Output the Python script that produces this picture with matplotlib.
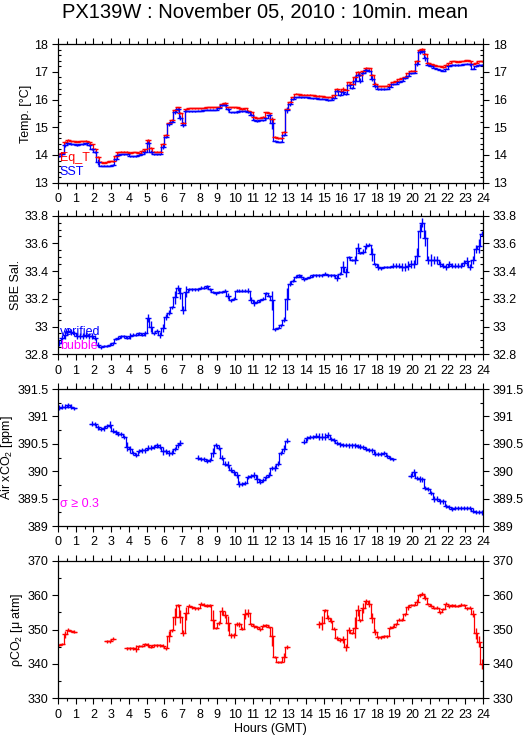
import numpy as np
import matplotlib
matplotlib.use("Agg")
import matplotlib.pyplot as plt
from matplotlib.ticker import MultipleLocator, FuncFormatter

plt.rcParams['font.family'] = ['Liberation Sans', 'DejaVu Sans']
plt.rcParams['mathtext.fontset'] = 'custom'
plt.rcParams['mathtext.rm'] = 'Liberation Sans'
plt.rcParams['mathtext.it'] = 'Liberation Sans:italic'

nan = np.nan

# 10 minute bins (centre of each bin, minutes after 00:00 GMT)
minutes = np.arange(5, 1440, 10)

# --- temperature [degC], one row per hour ---
eq_t = [
    14.02, 14.08, 14.48, 14.55, 14.50, 14.50,
    14.48, 14.50, 14.50, 14.52, 14.48, 14.38,
    14.22, 13.92, 13.75, 13.72, 13.75, 13.78,
    13.78, 13.95, 14.10, 14.12, 14.12, 14.12,
    14.08, 14.10, 14.10, 14.08, 14.15, 14.20,
    14.55, 14.25, 14.12, 14.12, 14.12, 14.40,
    14.72, 15.15, 15.28, 15.62, 15.72, 15.52,
    15.15, 15.65, 15.68, 15.68, 15.68, 15.68,
    15.68, 15.70, 15.72, 15.72, 15.72, 15.73,
    15.75, 15.85, 15.88, 15.72, 15.72, 15.72,
    15.72, 15.68, 15.65, 15.68, 15.60, 15.55,
    15.38, 15.32, 15.35, 15.38, 15.55, 15.52,
    15.30, 14.65, 14.60, 14.60, 14.82, 15.65,
    15.93, 16.08, 16.22, 16.20, 16.18, 16.18,
    16.18, 16.17, 16.15, 16.13, 16.13, 16.12,
    16.10, 16.08, 16.08, 16.15, 16.40, 16.30,
    16.40, 16.35, 16.62, 16.55, 16.80, 17.00,
    16.90, 17.05, 17.15, 17.13, 16.88, 16.58,
    16.48, 16.48, 16.48, 16.50, 16.55, 16.62,
    16.67, 16.73, 16.77, 16.83, 16.95, 17.05,
    17.05, 17.38, 17.80, 17.83, 17.65, 17.33,
    17.28, 17.25, 17.22, 17.20, 17.18, 17.25,
    17.33, 17.38, 17.38, 17.37, 17.38, 17.40,
    17.42, 17.40, 17.28, 17.33, 17.38, 17.38,
]
eq_t_sd = [
    .02, .02, .03, .02, .02, .02,  .02, .02, .02, .02, .02, .02,
    .02, .04, .02, .02, .02, .02,  .02, .03, .02, .02, .02, .02,
    .02, .02, .02, .02, .02, .03,  .03, .03, .02, .02, .02, .04,
    .03, .04, .03, .04, .03, .05,  .05, .02, .02, .02, .02, .02,
    .02, .02, .02, .02, .02, .02,  .02, .02, .02, .03, .02, .02,
    .02, .02, .02, .02, .02, .03,  .02, .02, .02, .02, .02, .02,
    .08, .02, .02, .02, .03, .05,  .03, .02, .02, .02, .02, .02,
    .02, .02, .02, .02, .02, .02,  .02, .02, .02, .02, .03, .02,
    .05, .02, .03, .02, .05, .03,  .04, .03, .04, .03, .05, .04,
    .03, .02, .02, .02, .02, .02,  .02, .02, .02, .02, .02, .02,
    .02, .04, .04, .03, .04, .02,  .02, .02, .02, .02, .02, .02,
    .02, .02, .02, .02, .02, .02,  .02, .03, .02, .02, .02, .02,
]
sst = [
    13.95, 14.02, 14.35, 14.42, 14.40, 14.38,
    14.35, 14.38, 14.40, 14.42, 14.35, 14.22,
    14.10, 13.75, 13.62, 13.62, 13.62, 13.62,
    13.65, 13.85, 14.00, 14.02, 14.02, 14.02,
    13.95, 13.95, 13.95, 14.00, 14.02, 14.12,
    14.45, 14.12, 14.02, 14.02, 14.02, 14.30,
    14.65, 15.12, 15.20, 15.55, 15.65, 15.35,
    15.10, 15.58, 15.58, 15.58, 15.58, 15.60,
    15.60, 15.62, 15.63, 15.63, 15.63, 15.63,
    15.68, 15.80, 15.80, 15.65, 15.55, 15.55,
    15.55, 15.60, 15.58, 15.60, 15.55, 15.45,
    15.27, 15.22, 15.25, 15.25, 15.32, 15.45,
    15.15, 14.52, 14.48, 14.48, 14.72, 15.62,
    15.83, 16.01, 16.08, 16.10, 16.08, 16.08,
    16.08, 16.07, 16.05, 16.05, 16.03, 16.03,
    16.02, 15.98, 16.00, 16.05, 16.32, 16.17,
    16.26, 16.20, 16.53, 16.42, 16.69, 16.90,
    16.69, 16.98, 17.07, 17.05, 16.76, 16.50,
    16.38, 16.38, 16.38, 16.40, 16.47, 16.55,
    16.58, 16.62, 16.67, 16.77, 16.86, 16.95,
    16.98, 17.29, 17.71, 17.76, 17.49, 17.25,
    17.20, 17.15, 17.12, 17.08, 17.05, 17.12,
    17.22, 17.26, 17.25, 17.25, 17.26, 17.27,
    17.30, 17.28, 17.12, 17.22, 17.26, 17.26,
]
sst_sd = [
    .03, .03, .05, .03, .03, .03,  .03, .03, .03, .03, .03, .03,
    .03, .12, .03, .02, .02, .02,  .03, .05, .03, .02, .02, .02,
    .02, .02, .02, .02, .02, .06,  .05, .06, .03, .02, .02, .08,
    .05, .08, .05, .08, .05, .10,  .10, .03, .02, .02, .02, .02,
    .02, .02, .02, .02, .02, .02,  .02, .03, .03, .05, .02, .02,
    .02, .03, .02, .02, .03, .05,  .03, .02, .02, .02, .02, .03,
    .20, .03, .02, .02, .05, .10,  .05, .03, .02, .02, .02, .02,
    .02, .02, .02, .02, .02, .02,  .02, .02, .02, .02, .06, .03,
    .10, .03, .05, .03, .15, .05,  .08, .05, .08, .05, .10, .08,
    .05, .03, .03, .03, .03, .03,  .03, .03, .03, .02, .03, .02,
    .03, .08, .07, .06, .08, .03,  .03, .02, .02, .02, .03, .03,
    .02, .02, .02, .02, .02, .03,  .03, .05, .03, .03, .02, .02,
]

# --- SBE salinity ---
sal = [
    32.88, 32.92, 32.94, 32.97, 32.96, 32.95,
    32.93, 32.93, 32.93, 32.94, 32.93, 32.93,
    32.92, 32.87, 32.85, 32.86, 32.86, 32.87,
    32.88, 32.91, 32.92, 32.93, 32.93, 32.92,
    32.93, 32.94, 32.94, 32.95, 32.94, 32.95,
    33.06, 33.00, 32.95, 32.97, 32.94, 32.99,
    33.07, 33.10, 33.14, 33.21, 33.28, 33.24,
    33.12, 33.25, 33.27, 33.27, 33.27, 33.27,
    33.28, 33.28, 33.29, 33.27, 33.25, 33.24,
    33.25, 33.25, 33.26, 33.22, 33.19, 33.20,
    33.26, 33.26, 33.26, 33.26, 33.26, 33.19,
    33.17, 33.18, 33.19, 33.20, 33.24, 33.22,
    33.19, 32.98, 32.99, 33.01, 33.05, 33.20,
    33.31, 33.33, 33.36, 33.37, 33.36, 33.34,
    33.35, 33.36, 33.37, 33.37, 33.37, 33.37,
    33.38, 33.37, 33.37, 33.37, 33.35, 33.38,
    33.43, 33.39, 33.50, 33.48, 33.48, 33.57,
    33.53, 33.54, 33.58, 33.59, 33.52, 33.45,
    33.43, 33.42, 33.43, 33.43, 33.43, 33.44,
    33.44, 33.44, 33.43, 33.43, 33.44, 33.45,
    33.45, 33.51, 33.69, 33.75, 33.64, 33.48,
    33.48, 33.48, 33.48, 33.45, 33.44, 33.43,
    33.45, 33.44, 33.44, 33.44, 33.44, 33.46,
    33.47, 33.43, 33.48, 33.56, 33.58, 33.67,
]
sal_sd = [
    .02, .02, .03, .02, .02, .02,  .02, .02, .02, .02, .02, .02,
    .02, .02, .01, .01, .01, .01,  .01, .01, .01, .01, .01, .01,
    .02, .01, .01, .01, .01, .02,  .03, .04, .01, .01, .02, .03,
    .02, .02, .01, .05, .02, .04,  .03, .04, .01, .01, .01, .01,
    .01, .01, .01, .01, .01, .01,  .01, .01, .01, .02, .01, .01,
    .01, .01, .01, .01, .02, .02,  .02, .01, .01, .01, .01, .01,
    .07, .01, .01, .01, .02, .08,  .02, .01, .01, .01, .01, .01,
    .01, .01, .01, .01, .01, .01,  .01, .01, .01, .01, .02, .01,
    .04, .03, .01, .01, .03, .03,  .01, .02, .02, .01, .05, .01,
    .02, .01, .01, .01, .01, .02,  .02, .02, .03, .03, .03, .03,
    .03, .06, .05, .03, .06, .03,  .04, .03, .03, .02, .02, .02,
    .02, .02, .02, .02, .02, .02,  .03, .02, .03, .03, .05, .02,
]

# --- atmospheric xCO2 [ppm] ---
air_xco2 = [
    391.16, 391.18, 391.18, 391.20, 391.18, 391.15,
    nan, nan, nan, nan, nan, 390.87,
    390.86, 390.80, 390.77, 390.78, 390.82, 390.85,
    390.74, 390.71, 390.68, 390.68, 390.62, 390.45,
    390.40, 390.33, 390.30, 390.37, 390.38, 390.38,
    390.43, 390.43, 390.44, 390.47, 390.45, 390.37,
    390.36, 390.33, 390.34, 390.40, 390.47, 390.52,
    nan, nan, nan, nan, nan, 390.25,
    390.22, 390.22, 390.19, 390.21, 390.34, 390.48,
    390.43, 390.25, 390.14, 390.12, 390.03, 389.98,
    389.93, 389.77, 389.77, 389.78, 389.90, 389.91,
    389.93, 389.86, 389.81, 389.84, 389.90, 389.94,
    390.06, 390.06, 390.14, 390.33, 390.41, 390.56,
    nan, nan, nan, nan, nan, 390.54,
    390.60, 390.62, 390.62, 390.65, 390.63, 390.63,
    390.63, 390.66, 390.59, 390.57, 390.52, 390.49,
    390.48, 390.48, 390.47, 390.47, 390.47, 390.46,
    390.45, 390.44, 390.41, 390.39, 390.38, 390.32,
    390.31, 390.31, 390.33, 390.28, 390.24, 390.22,
    nan, nan, nan, nan, nan, 389.92,
    389.98, 389.88, 389.86, 389.85, 389.69, 389.67,
    389.60, 389.49, 389.50, 389.45, 389.45, 389.37,
    389.35, 389.31, 389.33, 389.33, 389.33, 389.33,
    389.33, 389.33, 389.28, 389.26, 389.26, 389.25,
]
air_xco2_sd = [
    .05, .04, .04, .05, .04, .03,  .04, .04, .04, .04, .04, .04,
    .04, .05, .04, .05, .04, .06,  .04, .04, .03, .04, .04, .08,
    .06, .04, .04, .04, .05, .04,  .04, .05, .04, .04, .04, .08,
    .04, .06, .04, .04, .04, .05,  .04, .04, .04, .04, .04, .04,
    .04, .04, .04, .04, .08, .04,  .05, .04, .05, .06, .04, .04,
    .06, .05, .04, .04, .04, .04,  .05, .08, .04, .04, .04, .04,
    .04, .06, .04, .04, .06, .05,  .04, .04, .04, .04, .04, .04,
    .04, .04, .04, .05, .06, .06,  .06, .05, .04, .04, .04, .04,
    .04, .04, .04, .04, .04, .04,  .04, .04, .04, .04, .04, .04,
    .04, .04, .04, .04, .03, .03,  .04, .04, .04, .04, .04, .04,
    .06, .04, .05, .04, .04, .04,  .04, .06, .04, .04, .04, .04,
    .04, .04, .04, .04, .04, .04,  .04, .04, .04, .04, .04, .04,
]

# --- seawater pCO2 [uatm] ---
pco2 = [
    345.5, 345.8, 348.7, 350.0, 349.6, 349.4,
    nan, nan, nan, nan, nan, nan,
    nan, nan, nan, nan, 346.6, 346.6,
    347.4, nan, nan, nan, nan, 344.6,
    344.6, 344.6, 344.4, 345.2, 345.2, 345.8,
    345.6, 345.0, 345.4, 345.4, 345.4, 345.3,
    344.6, 348.0, 349.8, 353.8, 357.1, 353.8,
    349.0, 354.7, 357.0, 356.5, 356.2, 356.2,
    357.6, 357.3, 357.0, 357.1, 352.9, 350.5,
    352.0, 355.5, 354.4, 351.9, 348.3, 348.3,
    351.7, 351.5, 350.3, 354.5, 354.8, 351.6,
    351.0, 350.7, 350.1, 351.2, 351.3, 350.8,
    348.0, 342.0, 340.6, 340.6, 342.0, 345.0,
    nan, nan, nan, nan, nan, nan,
    nan, nan, nan, nan, 351.5, 352.0,
    355.6, 353.5, 352.6, 350.3, 347.6, 346.9,
    347.2, 344.9, 349.9, 349.0, 350.6, 355.6,
    352.7, 356.2, 358.2, 357.6, 353.4, 349.3,
    347.8, 347.8, 348.0, 348.0, 350.6, 350.9,
    351.6, 352.9, 352.9, 354.5, 356.5, 357.2,
    357.2, 358.0, 360.0, 360.5, 359.3, 357.5,
    357.0, 356.3, 356.4, 355.0, 356.0, 357.6,
    356.8, 357.1, 357.0, 356.9, 357.3, 357.2,
    356.2, 356.4, 354.6, 348.9, 346.5, 340.0,
]
pco2_sd = [
    .4, .4, 1.0, .4, .4, .4,  .4, .4, .4, .4, .4, .4,
    .4, .4, .4, .4, .4, .4,  .4, .4, .4, .4, .4, .4,
    .4, .4, 1.0, .4, .4, .4,  .6, .4, .4, .4, .4, .4,
    .4, 1.5, .5, 2.5, .5, 2.0,  1.0, 2.0, .4, .4, .4, .4,
    .4, .4, .4, .4, 2.8, .4,  .6, 1.2, 1.0, 2.2, .6, .6,
    .6, .6, .4, 1.5, 1.2, .4,  .4, .4, .4, .4, .4, .4,
    2.7, .4, .4, .4, 1.3, .5,  .4, .4, .4, .4, .4, .4,
    .4, .4, .4, .4, 1.0, 2.0,  .4, .8, .8, .4, .6, .6,
    1.0, 1.0, .8, .4, 3.0, 1.5,  .4, 1.5, .6, 1.0, 1.5, .8,
    .4, .4, .4, .5, .4, .4,  .4, .4, .4, .4, .8, .4,
    .4, .8, .4, .4, .8, .4,  .4, .4, .4, .4, .4, .4,
    .4, .4, .4, .4, .4, .4,  .4, .4, 1.0, 1.5, 1.5, 1.5,
]

BLUE = '#0000ff'
RED = '#ff0000'
MAGENTA = '#ff00ff'

hours = minutes / 60.0


def draw(ax, vals, sd, color):
    y = np.asarray(vals, dtype=float)
    ax.step(hours, y, where='mid', color=color, lw=0.9)
    ax.errorbar(hours, y, yerr=sd, fmt='_', color=color, ms=4.5, mew=1.0,
                elinewidth=1.0, capsize=0)


def setup(ax, ylim, major, minor, ylabel):
    ax.set_xlim(0, 24)
    ax.set_ylim(*ylim)
    ax.xaxis.set_major_locator(MultipleLocator(1))
    ax.xaxis.set_minor_locator(MultipleLocator(0.5))
    ax.yaxis.set_major_locator(MultipleLocator(major))
    ax.yaxis.set_minor_locator(MultipleLocator(minor))
    ax.yaxis.set_major_formatter(FuncFormatter(lambda v, p: f'{round(v, 3):g}'))
    ax.tick_params(axis='x', which='both', direction='out', top=True, bottom=True,
                   labelsize=9, pad=3, width=0.8)
    ax.tick_params(axis='x', which='major', length=4.5)
    ax.tick_params(axis='x', which='minor', length=2.5)
    ax.tick_params(axis='y', which='both', left=True, right=True, labelright=True,
                   labelsize=9, width=0.8)
    ax.tick_params(axis='y', which='major', direction='out', length=4, pad=3)
    ax.tick_params(axis='y', which='minor', direction='in', length=2.5)
    for s in ax.spines.values():
        s.set_linewidth(0.9)
    ax.set_ylabel(ylabel, fontsize=9, labelpad=1.5)


fig = plt.figure(figsize=(5.29, 7.39), dpi=100)
left, width = 0.1096, 0.8034
ax1 = fig.add_axes([left, 0.7528, width, 0.1873])
ax2 = fig.add_axes([left, 0.5206, width, 0.1876])
ax3 = fig.add_axes([left, 0.2882, width, 0.1854])
ax4 = fig.add_axes([left, 0.0551, width, 0.1858])

# temperature
setup(ax1, (13, 18), 1, 0.2, 'Temp. [°C]')
draw(ax1, eq_t, eq_t_sd, RED)
draw(ax1, sst, sst_sd, BLUE)
ax1.text(0.004, 0.18, 'Eq_T', color=RED, fontsize=9, transform=ax1.transAxes, va='center')
ax1.text(0.004, 0.075, 'SST', color=BLUE, fontsize=9, transform=ax1.transAxes, va='center')

# salinity
setup(ax2, (32.8, 33.8), 0.2, 0.05, 'SBE Sal.')
draw(ax2, sal, sal_sd, BLUE)
ax2.text(0.004, 0.16, 'verified', color=BLUE, fontsize=9, transform=ax2.transAxes, va='center')
ax2.text(0.004, 0.06, 'bubble', color=MAGENTA, fontsize=9, transform=ax2.transAxes, va='center')

# air xCO2
setup(ax3, (389, 391.5), 0.5, 0.25, 'Air xCO$_2$ [ppm]')
draw(ax3, air_xco2, air_xco2_sd, BLUE)
ax3.text(0.004, 0.16, 'σ ≥ 0.3', color=MAGENTA, fontsize=9, transform=ax3.transAxes, va='center')

# pCO2
setup(ax4, (330, 370), 10, 5, 'ρCO$_2$ [μ atm]')
draw(ax4, pco2, pco2_sd, RED)
ax4.set_xlabel('Hours (GMT)', fontsize=9, labelpad=2)

fig.suptitle('PX139W : November 05, 2010 : 10min. mean', fontsize=14.5, y=0.997, va='top')

fig.savefig('out.png', dpi=100)
